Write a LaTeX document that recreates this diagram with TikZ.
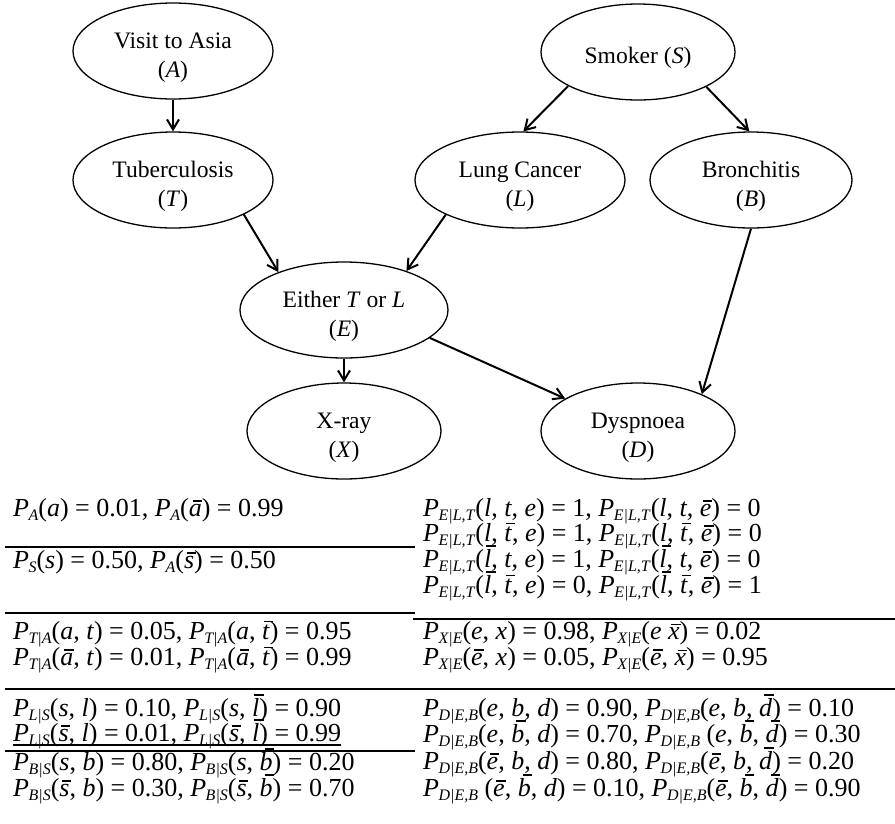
\documentclass[tikz,border=0pt]{standalone}
\usepackage{fontspec}
\setmainfont{Liberation Serif}
\usetikzlibrary{shapes.geometric,arrows.meta}
\newcommand\I[1]{\textit{#1}}
\newcommand\tp{\rule{0pt}{29pt}}
\newcommand\Pb[1]{\textit{P}\kern-0.5pt\raisebox{-0.18em}{\fontsize{16}{16}\selectfont\textit{#1}}}
\newcommand\ob[1]{\leavevmode\setbox0=\hbox{\textit{#1}}\rlap{\hbox to\wd0{\hss\kern0.35\ht0\raisebox{\dimexpr\ht0+0.08em\relax}{\rule{0.36em}{0.055em}}\hss}}\box0}
\tikzset{
  var/.style={draw, ellipse, line width=1.3pt, inner sep=0pt, align=center,
    font=\fontsize{23.6}{29}\selectfont},
  arr/.style={line width=2pt, -{Straight Barb[length=10pt,width=12pt]}},
  row/.style={anchor=base west, inner sep=0pt, font=\fontsize{26}{26}\selectfont},
  rule/.style={line width=1.8pt}
}
\begin{document}
\begin{tikzpicture}[x=1pt,y=-1pt]
\useasboundingbox (0,0) rectangle (895,823);
% nodes
\node[var, minimum width=200pt, minimum height=96pt] (A) at (173,51) {\tp Visit to Asia\\(\I{A})};
\node[var, minimum width=194pt, minimum height=96pt] (S) at (638,52) {\tp Smoker (\I{S})};
\node[var, minimum width=200pt, minimum height=96pt] (T) at (173,180) {\tp Tuberculosis\\(\I{T})};
\node[var, minimum width=210pt, minimum height=96pt] (L) at (520,180) {\tp Lung Cancer\\(\I{L})};
\node[var, minimum width=202pt, minimum height=96pt] (B) at (751,180) {\tp Bronchitis\\(\I{B})};
\node[var, minimum width=208pt, minimum height=96pt] (E) at (344,310) {\tp Either \I{T} or \I{L}\\(\I{E})};
\node[var, minimum width=194pt, minimum height=96pt] (X) at (344,431) {\tp X-ray\\(\I{X})};
\node[var, minimum width=194pt, minimum height=96pt] (D) at (638,431) {\tp Dyspnoea\\(\I{D})};
% edges
\draw[arr] (A.south) -- (T.north);
\draw[arr] (S.-154) -- (L.86);
\draw[arr] (S.-27) -- (B.92);
\draw[arr] (T.-26) -- (E.150);
\draw[arr] (L.205) -- (E.32);
\draw[arr] (E.south) -- (X.north);
\draw[arr] (E.-18) -- (D.156);
\draw[arr] (B.south) -- (D.30);
% left table
\node[row] (lA) at (13,516) {\Pb{A}(\I{a}) = 0.01, \Pb{A}(\ob{a}) = 0.99};
\node[row] (lS) at (13,568) {\Pb{S}(\I{s}) = 0.50, \Pb{A}(\ob{s}) = 0.50};
\node[row] (lT1) at (13,639) {\Pb{T|A}(\I{a}, \I{t}) = 0.05, \Pb{T|A}(\I{a}, \ob{t}) = 0.95};
\node[row] (lT2) at (13,665) {\Pb{T|A}(\ob{a}, \I{t}) = 0.01, \Pb{T|A}(\ob{a}, \ob{t}) = 0.99};
\node[row] (lL1) at (13,716) {\Pb{L|S}(\I{s}, \I{l}) = 0.10, \Pb{L|S}(\I{s}, \ob{l}) = 0.90};
\node[row] (lL2) at (13,741) {\Pb{L|S}(\ob{s}, \I{l}) = 0.01, \Pb{L|S}(\ob{s}, \ob{l}) = 0.99};
\node[row] (lB1) at (13,770) {\Pb{B|S}(\I{s}, \I{b}) = 0.80, \Pb{B|S}(\I{s}, \ob{b}) = 0.20};
\node[row] (lB2) at (13,796) {\Pb{B|S}(\ob{s}, \I{b}) = 0.30, \Pb{B|S}(\ob{s}, \ob{b}) = 0.70};
% right table
\node[row] (rE1) at (423,516) {\Pb{E|L,T}(\I{l}, \I{t}, \I{e}) = 1, \Pb{E|L,T}(\I{l}, \I{t}, \ob{e}) = 0};
\node[row] (rE2) at (423,541) {\Pb{E|L,T}(\I{l}, \ob{t}, \I{e}) = 1, \Pb{E|L,T}(\I{l}, \ob{t}, \ob{e}) = 0};
\node[row] (rE3) at (423,567) {\Pb{E|L,T}(\ob{l}, \I{t}, \I{e}) = 1, \Pb{E|L,T}(\ob{l}, \I{t}, \ob{e}) = 0};
\node[row] (rE4) at (423,593) {\Pb{E|L,T}(\ob{l}, \ob{t}, \I{e}) = 0, \Pb{E|L,T}(\ob{l}, \ob{t}, \ob{e}) = 1};
\node[row] (rX1) at (423,639) {\Pb{X|E}(\I{e}, \I{x}) = 0.98, \Pb{X|E}(\I{e} \ob{x}) = 0.02};
\node[row] (rX2) at (423,665) {\Pb{X|E}(\ob{e}, \I{x}) = 0.05, \Pb{X|E}(\ob{e}, \ob{x}) = 0.95};
\node[row] (rD1) at (423,716) {\Pb{D|E,B}(\I{e}, \I{b}, \I{d}) = 0.90, \Pb{D|E,B}(\I{e}, \I{b}, \ob{d}) = 0.10};
\node[row] (rD2) at (423,742) {\Pb{D|E,B}(\I{e}, \ob{b}, \I{d}) = 0.70, \Pb{D|E,B} (\I{e}, \ob{b}, \ob{d}) = 0.30};
\node[row] (rD3) at (423,769) {\Pb{D|E,B}(\ob{e}, \I{b}, \I{d}) = 0.80, \Pb{D|E,B}(\ob{e}, \I{b}, \ob{d}) = 0.20};
\node[row] (rD4) at (423,796) {\Pb{D|E,B} (\ob{e}, \ob{b}, \I{d}) = 0.10, \Pb{D|E,B}(\ob{e}, \ob{b}, \ob{d}) = 0.90};
% rules
\draw[rule] (5,547) -- (415,547);
\draw[rule] (5,613) -- (415,613);
\draw[rule] (413,619) -- (895,619);
\draw[rule] (5,689) -- (895,689);
\draw[line width=1.2pt] ([yshift=-4pt]lL2.base west) -- ([yshift=-4pt]lL2.base east);
\draw[rule] (5,751) -- (415,751);
\end{tikzpicture}
\end{document}
